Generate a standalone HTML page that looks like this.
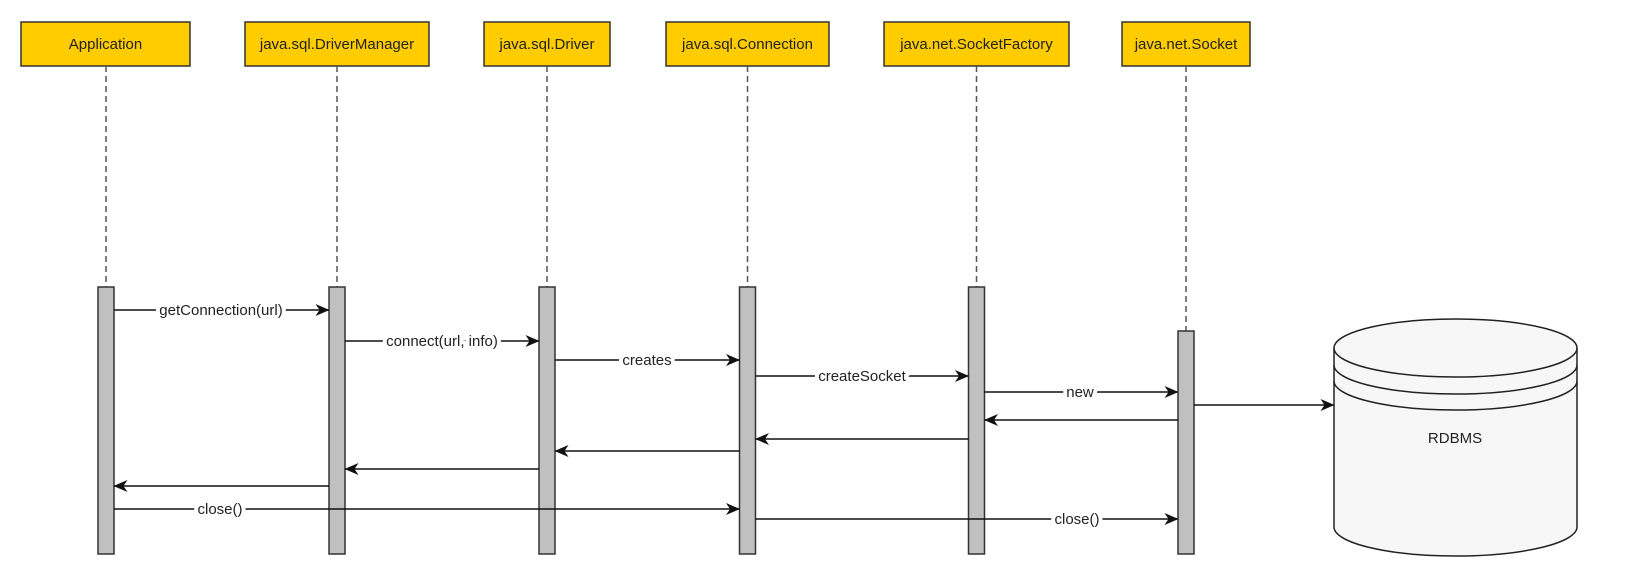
<!DOCTYPE html>
<html><head><meta charset="utf-8"><style>
html,body{margin:0;padding:0;background:#fff;}
svg{display:block;}
text{font-family:"Liberation Sans",sans-serif;font-size:15px;fill:#222;}
.l{stroke:#fff;stroke-width:8px;paint-order:stroke;stroke-linejoin:round;}
</style></head><body>
<svg width="1632" height="588" viewBox="0 0 1632 588" xmlns="http://www.w3.org/2000/svg">
<defs>
<marker id="a" viewBox="0 0 14 12" refX="13.5" refY="6" markerWidth="14" markerHeight="12" markerUnits="userSpaceOnUse" orient="auto">
<path d="M0,0 L14,6 L0,12 L4,6 Z" fill="#111"/>
</marker>
</defs>
<g stroke="#333" stroke-width="1.5" fill="#ffcc00">
<rect x="21" y="22" width="169" height="44"/>
<rect x="245" y="22" width="184" height="44"/>
<rect x="484" y="22" width="126" height="44"/>
<rect x="666" y="22" width="163" height="44"/>
<rect x="884" y="22" width="185" height="44"/>
<rect x="1122" y="22" width="128" height="44"/>
</g>
<g text-anchor="middle">
<text x="105.5" y="49">Application</text>
<text x="337" y="49">java.sql.DriverManager</text>
<text x="547" y="49">java.sql.Driver</text>
<text x="747.5" y="49">java.sql.Connection</text>
<text x="976.5" y="49">java.net.SocketFactory</text>
<text x="1186" y="49">java.net.Socket</text>
</g>
<g stroke="#555" stroke-width="1.5" stroke-dasharray="6,4">
<line x1="106" y1="66" x2="106" y2="287"/>
<line x1="337" y1="66" x2="337" y2="287"/>
<line x1="547" y1="66" x2="547" y2="287"/>
<line x1="747.5" y1="66" x2="747.5" y2="287"/>
<line x1="976.5" y1="66" x2="976.5" y2="287"/>
<line x1="1186" y1="66" x2="1186" y2="331"/>
</g>
<g stroke="#333" stroke-width="1.5" fill="#c0c0c0">
<rect x="98" y="287" width="16" height="267"/>
<rect x="329" y="287" width="16" height="267"/>
<rect x="539" y="287" width="16" height="267"/>
<rect x="739.5" y="287" width="16" height="267"/>
<rect x="968.5" y="287" width="16" height="267"/>
<rect x="1178" y="331" width="16" height="223"/>
</g>
<g stroke="#111" stroke-width="1.5" fill="none" marker-end="url(#a)">
<line x1="114" y1="310" x2="329" y2="310"/>
<line x1="345" y1="341" x2="539" y2="341"/>
<line x1="555" y1="360" x2="739.5" y2="360"/>
<line x1="755.5" y1="376" x2="968.5" y2="376"/>
<line x1="984.5" y1="392" x2="1178" y2="392"/>
<line x1="1178" y1="420" x2="984.5" y2="420"/>
<line x1="968.5" y1="439" x2="755.5" y2="439"/>
<line x1="739.5" y1="451" x2="555" y2="451"/>
<line x1="539" y1="469" x2="345" y2="469"/>
<line x1="329" y1="486" x2="114" y2="486"/>
<line x1="114" y1="509" x2="739.5" y2="509"/>
<line x1="755.5" y1="519" x2="1178" y2="519"/>
<line x1="1194" y1="405" x2="1334" y2="405"/>
</g>
<g text-anchor="middle">
<text class="l" x="221" y="315">getConnection(url)</text>
<text class="l" x="442" y="346">connect(url, info)</text>
<text class="l" x="647" y="365">creates</text>
<text class="l" x="862" y="381">createSocket</text>
<text class="l" x="1080" y="397">new</text>
<text class="l" x="220" y="514">close()</text>
<text class="l" x="1077" y="524">close()</text>
</g>
<g stroke="#222" stroke-width="1.5" fill="#f7f7f7">
<path d="M1334,348 A121.5,29 0 0 1 1577,348 L1577,527 A121.5,29 0 0 1 1334,527 Z"/>
<path d="M1334,348 A121.5,29 0 0 0 1577,348" fill="none"/>
<path d="M1334,365 A121.5,29 0 0 0 1577,365" fill="none"/>
<path d="M1334,381 A121.5,29 0 0 0 1577,381" fill="none"/>
</g>
<text x="1455" y="443" text-anchor="middle">RDBMS</text>
</svg>
</body></html>
